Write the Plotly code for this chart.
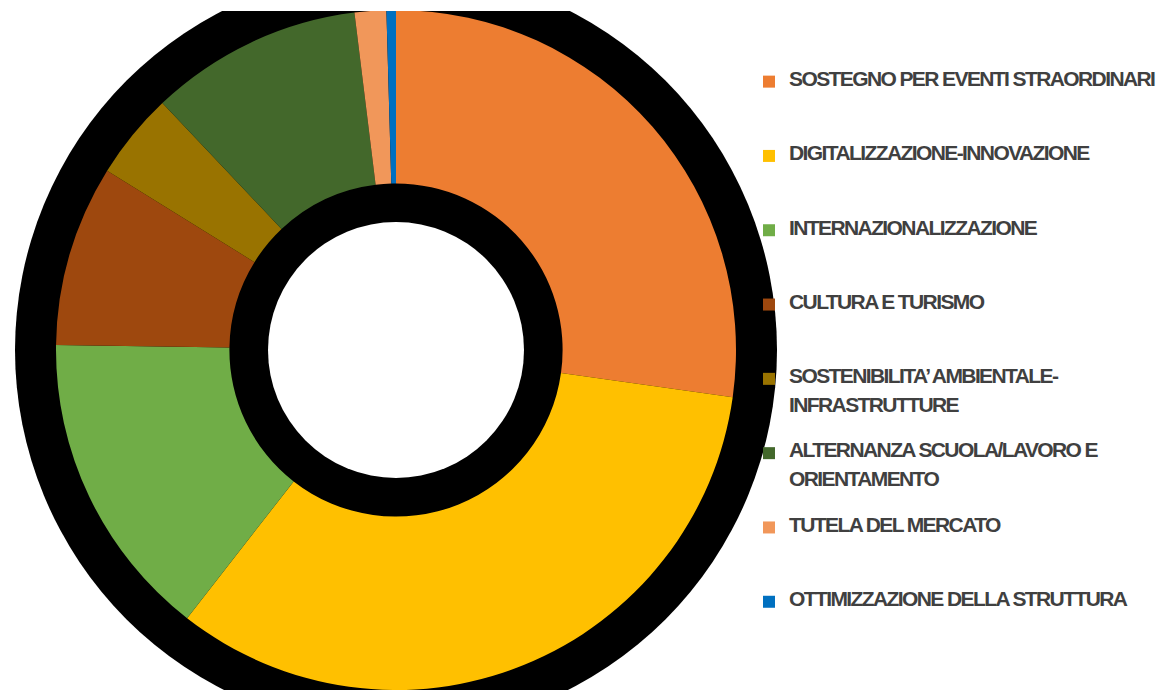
import plotly.graph_objects as go

# ---- data ----
categories = [
    "SOSTEGNO PER EVENTI STRAORDINARI",
    "DIGITALIZZAZIONE-INNOVAZIONE",
    "INTERNAZIONALIZZAZIONE",
    "CULTURA E TURISMO",
    "SOSTENIBILITA’ AMBIENTALE-|INFRASTRUTTURE",
    "ALTERNANZA SCUOLA/LAVORO E|ORIENTAMENTO",
    "TUTELA DEL MERCATO",
    "OTTIMIZZAZIONE DELLA STRUTTURA",
]
values = [27.2, 33.3, 14.7, 8.6, 4.1, 10.1, 1.5, 0.45]
colors = ["#ED7D31", "#FFC000", "#70AD47", "#9E480E",
          "#997300", "#43682B", "#F1975A", "#0070C0"]

# ---- layout constants (figure pixels; page body adds an 8px offset) ----
W, H = 1161, 682
CX, CY = 388, 342          # donut centre
R_PIE = 340                # coloured ring outer radius
R_BLACK = 381              # black halo outer radius
R_WHITE = 128              # white centre radius
HOLE = 0.49
TXT = 21                   # visible legend text size
LEG_FONT = 10.97           # nominal legend line font (controls spacing)


def legend_label(name):
    parts = name.split("|")
    span = lambda s: (f"<span style='font-size:{TXT}px;letter-spacing:-1.6px'>"
                      f"{s}</span>")
    if len(parts) == 1:
        return span(parts[0]) + "<br> <br> <br> <br> "
    return span(parts[0]) + "<br> <br>" + span(parts[1]) + "<br> <br> "


labels = [legend_label(c) for c in categories]

fig = go.Figure()
fig.add_trace(go.Pie(
    labels=labels,
    values=values,
    marker=dict(colors=colors, line=dict(width=0)),
    hole=HOLE,
    sort=False,
    direction="clockwise",
    rotation=0,
    textinfo="none",
    hoverinfo="percent",
    domain=dict(x=[(CX - R_PIE) / W, (CX + R_PIE) / W],
                y=[max(0, 1 - (CY + R_PIE) / H), min(1, 1 - (CY - R_PIE) / H)]),
))


def px2paper(x, y):
    return x / W, 1 - y / H


shapes = []
x0, y1 = px2paper(CX - R_BLACK, CY - R_BLACK)
x1, y0 = px2paper(CX + R_BLACK, CY + R_BLACK)
shapes.append(dict(type="circle", xref="paper", yref="paper", x0=x0, x1=x1,
                   y0=y0, y1=y1, fillcolor="black", line=dict(width=0), layer="below"))
x0, y1 = px2paper(CX - R_WHITE, CY - R_WHITE)
x1, y0 = px2paper(CX + R_WHITE, CY + R_WHITE)
shapes.append(dict(type="circle", xref="paper", yref="paper", x0=x0, x1=x1,
                   y0=y0, y1=y1, fillcolor="white", line=dict(width=0), layer="below"))
# white strip at the very top (chart area clip)
shapes.append(dict(type="rect", xref="paper", yref="paper", x0=0, x1=0.7,
                   y0=1 - 3 / H, y1=1.02, fillcolor="white", line=dict(width=0), layer="above"))

fig.update_layout(
    width=W, height=H,
    margin=dict(l=0, r=0, t=0, b=0, autoexpand=False),
    paper_bgcolor="white",
    plot_bgcolor="white",
    shapes=shapes,
    showlegend=True,
    legend=dict(
        x=741 / W, xanchor="left",
        y=1 - 60 / H, yanchor="top",
        bgcolor="rgba(0,0,0,0)",
        font=dict(family="Liberation Sans, Arial, sans-serif",
                  size=LEG_FONT, color="#404040", weight="bold"),
        valign="top",
        traceorder="normal",
    ),
)

fig.write_html("out.html")
